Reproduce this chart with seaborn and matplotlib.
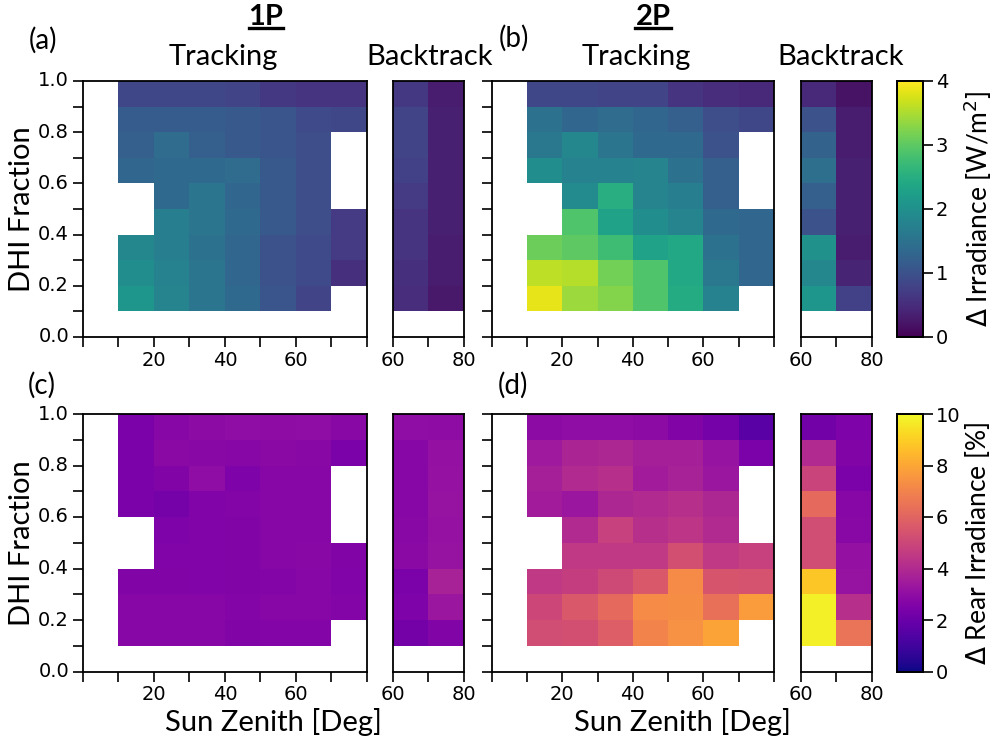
import numpy as np
import pandas as pd
import matplotlib
matplotlib.use("Agg")
import matplotlib.pyplot as plt
import seaborn as sns
from matplotlib.lines import Line2D

nan = np.nan

# ---------------- data ----------------
# Zenith bins (deg) and DHI-fraction bins
zenith_track = ["0-10", "10-20", "20-30", "30-40", "40-50", "50-60", "60-70", "70-80"]
zenith_back = ["60-70", "70-80"]
dhi_bins = ["0.9-1.0", "0.8-0.9", "0.7-0.8", "0.6-0.7", "0.5-0.6",
            "0.4-0.5", "0.3-0.4", "0.2-0.3", "0.1-0.2", "0.0-0.1"]

xtick_track = ["", "", "20", "", "40", "", "60", "", ""]
xtick_back = ["60", "", "80"]
ytick_labels = ["1.0", "", "0.8", "", "0.6", "", "0.4", "", "0.2", "", "0.0"]

# (a) 1P tracking, delta irradiance [W/m2]; rows DHI 0.9-1.0 -> 0.1-0.2, cols zenith 10-20 -> 70-80
irr_1p_track = [
    [0.85, 0.85, 0.85, 0.80, 0.65, 0.60, 0.60],
    [1.15, 1.15, 1.15, 1.10, 1.05, 0.90, 0.85],
    [1.20, 1.40, 1.20, 1.10, 1.05, 0.95, nan],
    [1.30, 1.35, 1.35, 1.40, 1.10, 0.95, nan],
    [nan, 1.35, 1.55, 1.30, 1.10, 0.95, nan],
    [nan, 1.70, 1.55, 1.35, 1.10, 0.95, 0.70],
    [1.85, 1.70, 1.50, 1.30, 1.00, 0.90, 0.70],
    [1.95, 1.75, 1.55, 1.30, 1.00, 0.90, 0.55],
    [2.10, 1.80, 1.55, 1.35, 1.05, 0.80, nan],
]
irr_1p_back = [
    [0.65, 0.30], [0.80, 0.35], [0.80, 0.35], [0.75, 0.35], [0.70, 0.35],
    [0.60, 0.35], [0.60, 0.30], [0.55, 0.30], [0.50, 0.25],
]
# (b) 2P
irr_2p_track = [
    [0.85, 0.85, 0.80, 0.80, 0.60, 0.50, 0.45],
    [1.50, 1.30, 1.40, 1.30, 1.20, 0.95, 0.85],
    [1.60, 1.85, 1.55, 1.35, 1.35, 1.00, nan],
    [1.95, 1.75, 1.75, 1.80, 1.50, 1.20, nan],
    [nan, 1.90, 2.50, 1.80, 1.70, 1.20, nan],
    [nan, 2.90, 2.30, 1.95, 1.80, 1.35, 1.30],
    [3.10, 3.00, 2.75, 2.30, 2.40, 1.50, 1.30],
    [3.60, 3.55, 3.15, 2.90, 2.40, 1.60, 1.30],
    [3.85, 3.40, 3.25, 2.90, 2.45, 1.75, nan],
]
irr_2p_back = [
    [0.45, 0.20], [1.00, 0.30], [1.25, 0.30], [1.45, 0.35], [1.20, 0.35],
    [1.00, 0.35], [2.00, 0.30], [1.85, 0.40], [2.10, 0.75],
]
# (c) 1P, delta rear irradiance [%]
rear_1p_track = [
    [2.40, 2.70, 2.90, 3.00, 2.95, 3.00, 2.80],
    [2.40, 2.85, 2.80, 2.75, 2.85, 2.80, 2.40],
    [2.40, 2.60, 3.00, 2.50, 2.70, 2.75, nan],
    [2.40, 2.30, 2.55, 2.65, 2.70, 2.75, nan],
    [nan, 2.50, 2.55, 2.60, 2.70, 2.75, nan],
    [nan, 2.55, 2.55, 2.60, 2.75, 2.80, 2.60],
    [2.60, 2.60, 2.55, 2.60, 2.65, 2.70, 2.55],
    [2.70, 2.70, 2.70, 2.65, 2.70, 2.70, 2.65],
    [2.70, 2.70, 2.70, 2.60, 2.65, 2.65, nan],
]
rear_1p_back = [
    [3.00, 2.95], [2.70, 3.10], [2.70, 3.15], [2.75, 3.20], [2.80, 3.15],
    [2.85, 3.20], [2.45, 3.70], [2.50, 3.30], [2.25, 2.60],
]
# (d) 2P
rear_2p_track = [
    [2.90, 3.00, 3.00, 2.90, 2.60, 2.30, 1.60],
    [3.40, 3.80, 3.90, 3.60, 3.60, 3.20, 2.40],
    [3.60, 4.00, 4.20, 3.50, 3.70, 3.30, nan],
    [3.50, 3.30, 3.90, 4.00, 4.20, 3.90, nan],
    [nan, 4.00, 4.80, 4.20, 4.40, 4.00, nan],
    [nan, 4.50, 4.50, 4.50, 5.30, 4.50, 4.80],
    [4.50, 4.70, 5.10, 5.60, 7.20, 5.50, 5.40],
    [5.00, 5.60, 6.20, 7.20, 7.30, 6.40, 7.70],
    [5.20, 5.30, 5.80, 7.00, 7.40, 7.90, nan],
]
rear_2p_back = [
    [2.20, 2.50], [4.00, 2.60], [4.90, 2.40], [6.20, 2.70], [5.20, 2.80],
    [5.20, 3.10], [8.80, 3.20], [9.80, 4.20], [9.80, 6.50],
]


def track_frame(rows):
    arr = np.full((len(dhi_bins), len(zenith_track)), nan)
    arr[:len(rows), 1:] = np.array(rows, dtype=float)
    return pd.DataFrame(arr, index=dhi_bins, columns=zenith_track)


def back_frame(rows):
    arr = np.full((len(dhi_bins), len(zenith_back)), nan)
    arr[:len(rows), :] = np.array(rows, dtype=float)
    return pd.DataFrame(arr, index=dhi_bins, columns=zenith_back)


# ---------------- figure ----------------
W, H = 995, 744
fig = plt.figure(figsize=(W / 100, H / 100), dpi=100)
LABEL_FONT = ["Lato", "DejaVu Sans"]
TICK_FS = 14


def px_axes(x0, y0, x1, y1):
    return fig.add_axes([x0 / W, 1 - y1 / H, (x1 - x0) / W, (y1 - y0) / H])


def style_axes(ax, xticklabels, show_y_ticks, show_y_labels):
    for s in ax.spines.values():
        s.set_visible(True)
        s.set_color("black")
        s.set_linewidth(1.3)
    n = len(xticklabels)
    ax.set_xticks(np.arange(n))
    ax.set_xticklabels(xticklabels, rotation=0, fontsize=TICK_FS)
    if show_y_ticks:
        ax.set_yticks(np.arange(len(ytick_labels)))
        ax.set_yticklabels(ytick_labels if show_y_labels else [""] * len(ytick_labels),
                           rotation=0, fontsize=TICK_FS)
    else:
        ax.set_yticks([])
    ax.tick_params(direction="out", length=7, width=1.2, color="black", pad=3)
    ax.set_xlabel("")
    ax.set_ylabel("")


rows_px = [(81, 337), (414, 671.5)]
datasets = [
    [(irr_1p_track, irr_1p_back), (irr_2p_track, irr_2p_back)],
    [(rear_1p_track, rear_1p_back), (rear_2p_track, rear_2p_back)],
]
cmaps = ["viridis", "plasma"]
vmaxs = [4, 10]
cticks = [[0, 1, 2, 3, 4], [0, 2, 4, 6, 8, 10]]
clabels = [r"$\Delta$ Irradiance [W/m$^2$]", r"$\Delta$ Rear Irradiance [%]"]
col_px = [((83, 367), (393, 464)), ((491.7, 774), (801, 871.7))]

for r, (y0, y1) in enumerate(rows_px):
    cax = px_axes(896.7, y0, 923.3, y1)
    for c in range(2):
        (tx0, tx1), (bx0, bx1) = col_px[c]
        track, back = datasets[r][c]
        ax_t = px_axes(tx0, y0, tx1, y1)
        sns.heatmap(track_frame(track), ax=ax_t, cmap=cmaps[r], vmin=0, vmax=vmaxs[r],
                    cbar=False)
        style_axes(ax_t, xtick_track, True, c == 0)
        ax_b = px_axes(bx0, y0, bx1, y1)
        last = (c == 1)
        sns.heatmap(back_frame(back), ax=ax_b, cmap=cmaps[r], vmin=0, vmax=vmaxs[r],
                    cbar=last, cbar_ax=cax if last else None)
        style_axes(ax_b, xtick_back, False, False)
    cax.set_yticks(cticks[r])
    cax.set_yticklabels([str(t) for t in cticks[r]], fontsize=TICK_FS)
    cax.tick_params(direction="out", length=7, width=1.2, color="black", pad=2)
    for s in cax.spines.values():
        s.set_visible(True)
        s.set_color("black")
        s.set_linewidth(1.3)
    fig.text(978 / W, 1 - ((y0 + y1) / 2) / H, clabels[r], rotation=90,
             ha="center", va="center", fontsize=19, family=LABEL_FONT)
    fig.text(22 / W, 1 - ((y0 + y1) / 2) / H, "DHI Fraction", rotation=90,
             ha="center", va="center", fontsize=21, family=LABEL_FONT)

# x labels
for xc in (273, 682):
    fig.text(xc / W, 1 - 722 / H, "Sun Zenith [Deg]", ha="center", va="center",
             fontsize=21, family=LABEL_FONT)

# panel letters
for lab, x, y in [("(a)", 43, 40), ("(b)", 514, 38), ("(c)", 42, 385), ("(d)", 513, 385)]:
    fig.text(x / W, 1 - y / H, lab, ha="center", va="center", fontsize=20, family=LABEL_FONT)

# column titles
for txt, x in [("Tracking", 223), ("Backtrack", 430), ("Tracking", 636), ("Backtrack", 841)]:
    fig.text(x / W, 1 - 57 / H, txt, ha="center", va="center", fontsize=21, family=LABEL_FONT)

heads = []
for txt, x in [("1P", 266), ("2P", 653)]:
    heads.append(fig.text(x / W, 1 - 17 / H, txt, ha="center", va="center", fontsize=21,
                          fontweight="bold", family=LABEL_FONT))

fig.canvas.draw()
renderer = fig.canvas.get_renderer()
for t in heads:
    bb = t.get_window_extent(renderer)
    yline = bb.y0 + 2
    fig.add_artist(Line2D([bb.x0 / W, bb.x1 / W], [yline / H, yline / H],
                          transform=fig.transFigure, color="black", lw=2.4))

fig.savefig("out.png", dpi=100)
